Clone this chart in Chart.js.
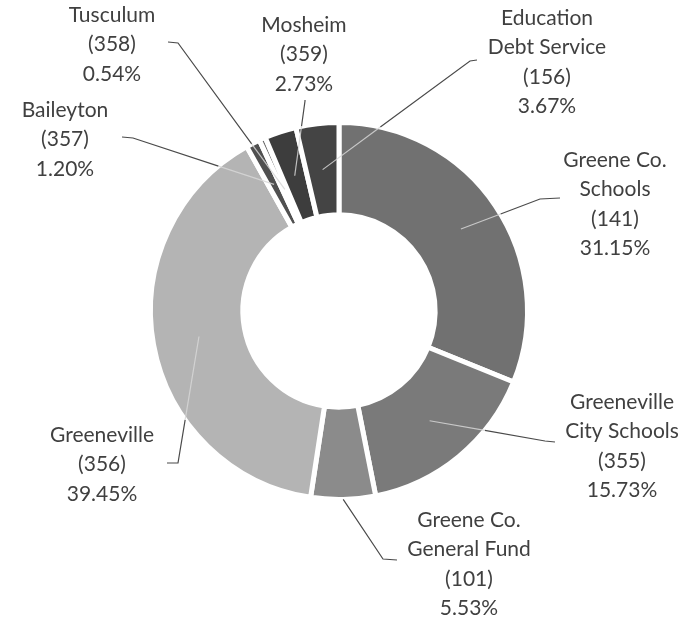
<!DOCTYPE html>
<html>
<head>
<meta charset="utf-8">
<title>Distribution by fund</title>
<script src="https://cdn.jsdelivr.net/npm/chart.js@4"></script>
<style>
    body { margin: 0; background: #fff; }
    #wrap { width: 689px; height: 618px; }
</style>
</head>
<body>
<div id="wrap"><canvas id="donut" width="689" height="618"></canvas></div>
<script>
// Data (clockwise from 12 o'clock)
const categories = [
    ['Greene Co.', 'Schools'],
    ['Greeneville', 'City Schools'],
    ['Greene Co.', 'General Fund'],
    ['Greeneville'],
    ['Baileyton'],
    ['Tusculum'],
    ['Mosheim'],
    ['Education', 'Debt Service']
];
const fundCodes = ['141', '355', '101', '356', '357', '358', '359', '156'];
const shares = [31.15, 15.73, 5.53, 39.45, 1.20, 0.54, 2.73, 3.67];

// Styling / label layout
const sliceColors = ['#717171', '#7a7a7a', '#8b8b8b', '#b4b4b4', '#505050', '#6a6a6a', '#3d3d3d', '#444444'];
// label block centre x and first line y
const labelPos = [[615, 160], [622, 402], [469, 520], [102, 435], [65, 110], [112, 15], [304, 25], [547, 18]];
// leader line: start next to the label, then the elbow
const leaderStart = [[560, 198], [555, 442], [397, 560], [167, 463], [122, 137], [168, 42], [305, 100], [477, 60]];
const leaderElbow = [[540, 199], [545, 441], [383, 559], [178, 463], [133, 138], [178, 43], [305, 101], [470, 61]];
// where in the ring the line ends (0 = inner edge, 1 = outer edge)
const anchorDepth = [0.55, 0.5, 1.0, 0.5, 0.5, 0.4, 0.5, 0.5];

const LINE_H = 29.5;

// Outside labels with leader lines
const outLabels = {
    id: 'outLabels',
    afterDatasetsDraw(chart) {
        const ctx = chart.ctx;
        const arcs = chart.getDatasetMeta(0).data;
        ctx.save();
        arcs.forEach((arc, i) => {
            const p = arc.getProps(['x', 'y', 'startAngle', 'endAngle', 'innerRadius', 'outerRadius'], true);
            const mid = (p.startAngle + p.endAngle) / 2;
            const r = p.innerRadius + (p.outerRadius - p.innerRadius) * anchorDepth[i];
            const ax = p.x + Math.cos(mid) * r;
            const ay = p.y + Math.sin(mid) * r;
            const [sx, sy] = leaderStart[i];
            const [ex, ey] = leaderElbow[i];

            // where the line enters the ring
            let cut = 1;
            const dx = ax - ex, dy = ay - ey;
            const fx = ex - p.x, fy = ey - p.y;
            const a = dx * dx + dy * dy;
            const b = 2 * (fx * dx + fy * dy);
            const c = fx * fx + fy * fy - p.outerRadius * p.outerRadius;
            const disc = b * b - 4 * a * c;
            if (disc >= 0 && a > 0) {
                const t = (-b - Math.sqrt(disc)) / (2 * a);
                if (t > 0 && t < 1) cut = t;
            }
            const cx = ex + dx * cut, cy = ey + dy * cut;

            ctx.lineWidth = 1.2;
            ctx.strokeStyle = '#4a4a4a';
            ctx.beginPath();
            ctx.moveTo(sx, sy);
            ctx.lineTo(ex, ey);
            ctx.lineTo(cx, cy);
            ctx.stroke();
            if (cut < 1) {
                ctx.strokeStyle = 'rgba(215,215,215,0.85)';
                ctx.beginPath();
                ctx.moveTo(cx, cy);
                ctx.lineTo(ax, ay);
                ctx.stroke();
            }

            // text block
            const lines = categories[i].concat(['(' + fundCodes[i] + ')', shares[i].toFixed(2) + '%']);
            ctx.fillStyle = '#404040';
            ctx.font = '21px Lato, "Open Sans", sans-serif';
            ctx.textAlign = 'center';
            ctx.textBaseline = 'middle';
            const [lx, ly] = labelPos[i];
            lines.forEach((t, k) => ctx.fillText(t, lx, ly + k * LINE_H));
        });
        ctx.restore();
    }
};

new Chart(document.getElementById('donut'), {
    type: 'doughnut',
    data: {
        labels: categories.map(c => c.join(' ')),
        datasets: [{
            data: shares,
            backgroundColor: sliceColors,
            borderColor: '#ffffff',
            borderWidth: 5
        }]
    },
    options: {
        responsive: false,
        devicePixelRatio: 1,
        animation: false,
        cutout: '51%',
        layout: { padding: { left: 148, right: 159, top: 120, bottom: 116 } },
        plugins: {
            legend: { display: false },
            tooltip: { enabled: false }
        }
    },
    plugins: [outLabels]
});
</script>
</body>
</html>
